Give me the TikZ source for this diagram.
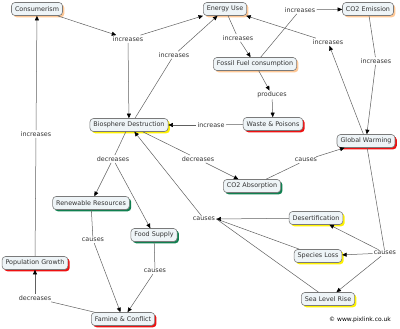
\documentclass[tikz,border=0pt]{standalone}
\usepackage{fontspec}
\setmainfont{DejaVu Sans}
\usetikzlibrary{arrows.meta,shadows}
\definecolor{boxfill}{HTML}{EEF4F7}
\definecolor{boxline}{HTML}{7A7A7A}
\definecolor{shorange}{HTML}{FFC896}
\definecolor{shyellow}{HTML}{FFF200}
\definecolor{shred}{HTML}{EE1111}
\definecolor{shgreen}{HTML}{108050}
\definecolor{linkcol}{HTML}{606060}
\definecolor{labcol}{HTML}{333333}
\begin{document}
\begin{tikzpicture}[x=1pt,y=-1pt,
  concept/.style={draw=boxline,line width=0.6pt,fill=boxfill,rounded corners=3.5pt,
    minimum height=13pt,inner xsep=3.5pt,inner ysep=1pt,
    font=\fontsize{6.4}{7}\selectfont,text=labcol},
  sorange/.style={concept,drop shadow={shadow xshift=1.8pt,shadow yshift=-1.8pt,fill=shorange,opacity=1}},
  syellow/.style={concept,drop shadow={shadow xshift=1.8pt,shadow yshift=-1.8pt,fill=shyellow,opacity=1}},
  sred/.style={concept,drop shadow={shadow xshift=1.8pt,shadow yshift=-1.8pt,fill=shred,opacity=1}},
  sgreen/.style={concept,drop shadow={shadow xshift=1.8pt,shadow yshift=-1.8pt,fill=shgreen,opacity=1}},
  linklab/.style={inner sep=1.2pt,font=\fontsize{6.4}{7}\selectfont,text=labcol},
  link/.style={draw=linkcol,line width=0.5pt},
  arr/.style={link,-{Triangle[length=4.5pt,width=4pt,color=black]}}
]
\useasboundingbox (0,0) rectangle (400,329);

% concepts
\node[sorange] (cons) at (37,9) {Consumerism};
\node[sorange] (energy) at (225,9) {Energy Use};
\node[sorange] (co2e) at (368,9) {CO2 Emission};
\node[sorange] (fossil) at (255,64) {Fossil Fuel consumption};
\node[syellow] (bio) at (129,125) {Biosphere Destruction};
\node[sred] (waste) at (273,124) {Waste \& Poisons};
\node[sred] (gw) at (366,141) {Global Warming};
\node[sgreen] (co2a) at (252,186) {CO2 Absorption};
\node[sgreen] (renew) at (91,203) {Renewable Resources};
\node[sgreen] (food) at (154,235) {Food Supply};
\node[sred] (pop) at (35,263) {Population Growth};
\node[sred] (famine) at (123,319) {Famine \& Conflict};
\node[syellow] (desert) at (316,218) {Desertification};
\node[syellow] (species) at (318,256) {Species Loss};
\node[syellow] (sea) at (328,299) {Sea Level Rise};

% linking phrases
\node[linklab] (l1) at (128,39) {increases};
\node[linklab] (l2) at (174,55) {increases};
\node[linklab] (l3) at (238,38) {increases};
\node[linklab] (l4) at (300,10) {increases};
\node[linklab] (l5) at (328,42) {increases};
\node[linklab] (l6) at (376,61) {increases};
\node[linklab] (l7) at (272,95) {produces};
\node[linklab] (l8) at (211,125) {increase};
\node[linklab] (l9) at (198,159) {decreases};
\node[linklab] (l10) at (306,160) {causes};
\node[linklab] (l11) at (113,159) {decreases};
\node[linklab] (l12) at (93,240) {causes};
\node[linklab] (l13) at (155,271) {causes};
\node[linklab] (l14) at (35,298) {decreases};
\node[linklab] (l15) at (36,134) {increases};
\node[linklab] (l16) at (385,253) {causes};
\node[linklab] (l17) at (204,219) {causes};

% connectors
\coordinate (bioN) at ([xshift=6pt]bio.north);
\draw[arr] (cons) -- (l1);
\draw[arr] (l1) -- (energy);
\draw[arr] (l1) -- (bio);
\draw[link] (bioN) -- (l2);
\draw[arr] (l2) -- (energy);
\draw[link] (energy) -- (l3);
\draw[arr] (l3) -- (fossil);
\draw[link] (fossil) -- (l4);
\draw[arr] (l4) -- (co2e);
\draw[link] (co2e) -- (l6);
\draw[arr] (l6) -- (gw);
\draw[arr] (gw) -- (l5);
\draw[arr] (l5) -- (energy);
\draw[arr] (fossil) -- (l7);
\draw[arr] (l7) -- (waste);
\draw[link] (waste) -- (l8);
\draw[arr] (l8) -- (bio);
\draw[link] (bio) -- (l9);
\draw[arr] (l9) -- (co2a);
\draw[link] (co2a) -- (l10);
\draw[arr] (l10) -- (gw);
\draw[link] (bio) -- (l11);
\draw[arr] (l11) -- (renew);
\draw[arr] (l11) -- (food);
\draw[link] (renew) -- (l12);
\draw[arr] (l12) -- (famine);
\draw[link] (food) -- (l13);
\draw[arr] (l13) -- (famine);
\draw[link] (famine) -- (l14);
\draw[arr] (l14) -- (pop);
\draw[link] (pop) -- (l15);
\draw[arr] (l15) -- (cons);
\draw[link] (gw) -- (l16);
\draw[arr] (l16) -- (desert);
\draw[arr] (l16) -- (species);
\draw[arr] (l16) -- (sea);
\draw[link] (species) -- (l17.east);
\draw[link] (sea) -- (l17.east);
\draw[arr] (desert) -- (l17.east);
\draw[arr] (l17) -- (bio);

\node[anchor=east,inner sep=0pt,font=\fontsize{6}{7}\selectfont] (copy) at (391,320) {© www.pixlink.co.uk};
\end{tikzpicture}
\end{document}
